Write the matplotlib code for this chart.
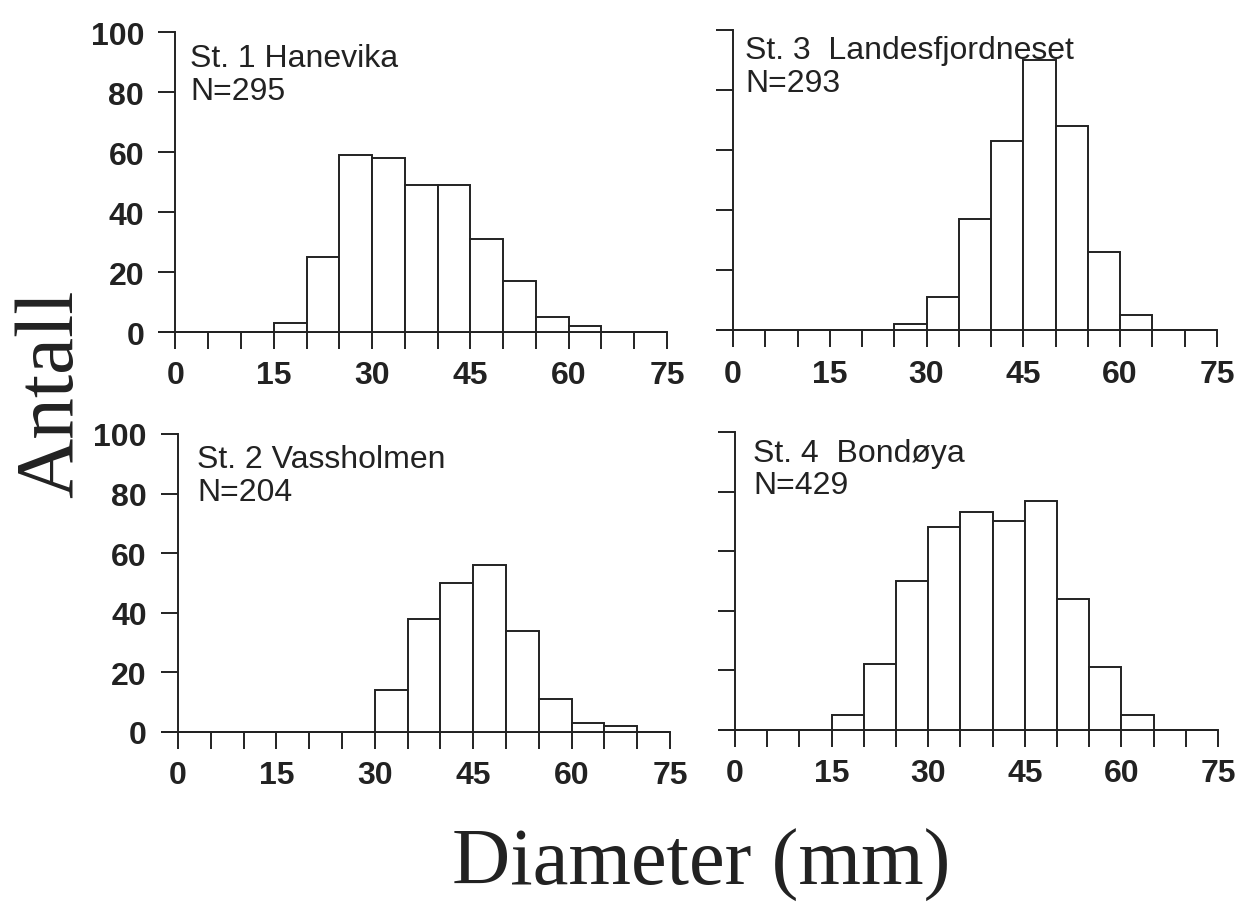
import matplotlib.pyplot as plt

# bin left edges (mm), 5 mm classes
bin_left = [0, 5, 10, 15, 20, 25, 30, 35, 40, 45, 50, 55, 60, 65, 70]
xtick_values = [0, 5, 10, 15, 20, 25, 30, 35, 40, 45, 50, 55, 60, 65, 70, 75]
ytick_values = [0, 20, 40, 60, 80, 100]

names = ['St. 1 Hanevika', 'St. 3  Landesfjordneset', 'St. 2 Vassholmen', 'St. 4  Bondøya']
n_values = [295, 293, 204, 429]

st1 = [0, 0, 0, 3, 25, 59, 58, 49, 49, 31, 17, 5, 2, 0, 0]
st3 = [0, 0, 0, 0, 0, 2, 11, 37, 63, 90, 68, 26, 5, 0, 0]
st2 = [0, 0, 0, 0, 0, 0, 14, 38, 50, 56, 34, 11, 3, 2, 0]
st4 = [0, 0, 0, 5, 22, 50, 68, 73, 70, 77, 44, 21, 5, 0, 0]

ink = '#222222'
plt.rcParams['font.family'] = ['Liberation Sans', 'DejaVu Sans']

fig = plt.figure(figsize=(12.4, 9.03), dpi=100)


def draw_panel(rect, counts, name, n, tx, ty, show_ylabels):
    ax = fig.add_axes(rect)
    ax.bar(bin_left, counts, width=5, align='edge', color='white',
           edgecolor=ink, linewidth=1.4, clip_on=False, zorder=3)
    ax.set_xlim(-2.5, 75)
    ax.set_ylim(0, 100)
    ax.spines['top'].set_visible(False)
    ax.spines['right'].set_visible(False)
    ax.spines['left'].set_position(('data', 0))
    for s in ['left', 'bottom']:
        ax.spines[s].set_color(ink)
        ax.spines[s].set_linewidth(1.4)
    ax.set_xticks(xtick_values)
    ax.set_xticklabels([str(v) if v % 15 == 0 else '' for v in xtick_values])
    ax.set_yticks(ytick_values)
    if show_ylabels:
        ax.set_yticklabels([str(v) for v in ytick_values])
    else:
        ax.set_yticklabels([])
    ax.tick_params(axis='both', direction='out', length=12.5, width=1.4,
                   color=ink, labelcolor=ink, labelsize=23)
    ax.tick_params(axis='x', pad=8)
    ax.tick_params(axis='y', pad=10)
    for lab in ax.get_xticklabels() + ax.get_yticklabels():
        lab.set_fontweight('bold')
    # station name and sample size
    ax.text(tx, ty, name, fontsize=23, color=ink, va='baseline')
    ax.text(tx, ty - 11, f'N={n}', fontsize=23, color=ink, va='baseline')
    return ax


draw_panel([0.1283, 0.6312, 0.4096, 0.3322], st1, names[0], n_values[0], 2.2, 88.7, True)
draw_panel([0.5781, 0.6334, 0.4033, 0.3322], st3, names[1], n_values[1], 1.9, 90.7, False)
draw_panel([0.1303, 0.1883, 0.4100, 0.3300], st2, names[2], n_values[2], 2.9, 88.8, True)
draw_panel([0.5798, 0.1905, 0.4025, 0.3300], st4, names[3], n_values[3], 2.8, 90.4, False)

fig.text(0.5655, 0.0205, 'Diameter (mm)', family='Liberation Serif', fontsize=58,
         color=ink, ha='center', va='baseline')
fig.text(0.042, 0.5637, 'Antall', family='Liberation Serif', fontsize=60,
         color=ink, rotation=90, ha='center', va='center')

fig.savefig('out.png', dpi=100, facecolor='white')
